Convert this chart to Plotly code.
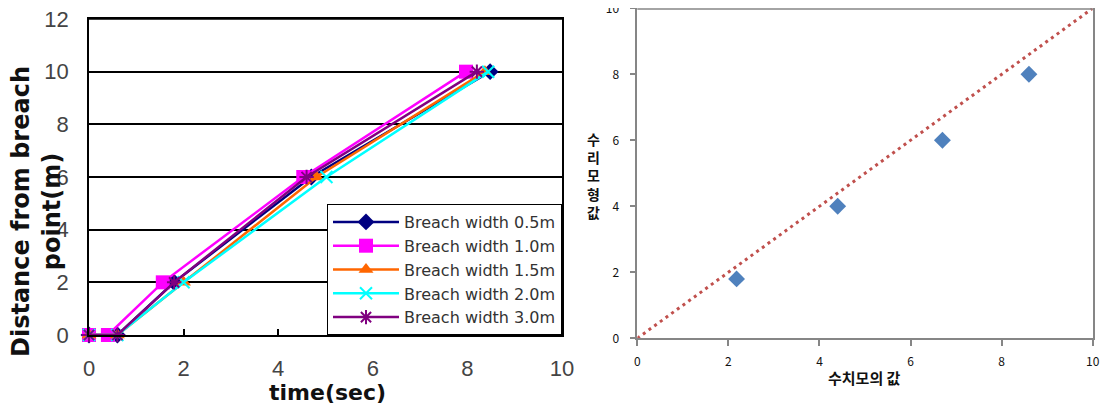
import plotly.graph_objects as go

W, H = 1109, 403
OFF = 8  # page body margin offsets the figure by 8 px

# ---- Left chart data: time (sec) at which each distance is reached ----
distance_m = [0, 0, 2, 6, 10]
series_names = ["Breach width 0.5m", "Breach width 1.0m", "Breach width 1.5m",
                "Breach width 2.0m", "Breach width 3.0m"]
time_05 = [0, 0.6, 1.8, 4.7, 8.48]
time_10 = [0, 0.4, 1.56, 4.53, 7.97]
time_15 = [0, 0.6, 2.0, 4.81, 8.37]
time_20 = [0, 0.6, 2.0, 5.02, 8.44]
time_30 = [0, 0.6, 1.8, 4.6, 8.2]

# ---- Right chart data ----
numerical_vals = [2.18, 4.4, 6.7, 8.6]     # 수치모의 값
hydraulic_vals = [1.8, 4.0, 6.0, 8.0]      # 수리모형값
diag_x = [0, 10]
diag_y = [0, 10]

left_times = [time_05, time_10, time_15, time_20, time_30]
colors = ["#000080", "#ff00ff", "#ff6600", "#00ffff", "#800080"]
symbols = ["diamond", "square", "triangle-up", "x-thin-open", "asterisk-open"]
msizes = [13, 14, 13, 12, 12]


def px_x(p):
    return (p - OFF) / W


def px_y(p):
    return 1 - (p - OFF) / H


L_X0, L_X1, L_Y0, L_Y1 = 89, 562, 335, 19
R_X0, R_X1, R_Y0, R_Y1 = 637.3, 1092.7, 338.3, 8.3

fig = go.Figure()

for name, t, c, s, ms in zip(series_names, left_times, colors, symbols, msizes):
    open_sym = s.endswith("open")
    fig.add_trace(go.Scatter(
        x=t, y=distance_m, name=name, mode="lines+markers",
        line=dict(color=c, width=2.5),
        marker=dict(symbol=s, size=ms, color=c,
                    line=dict(color=c, width=2 if open_sym else 0)),
        cliponaxis=False, xaxis="x", yaxis="y",
    ))

fig.add_trace(go.Scatter(
    x=diag_x, y=diag_y, mode="lines", showlegend=False,
    line=dict(color="#c0504d", width=3, dash="3px,4px"),
    cliponaxis=False, xaxis="x2", yaxis="y2",
))
fig.add_trace(go.Scatter(
    x=numerical_vals, y=hydraulic_vals, mode="markers", showlegend=False,
    marker=dict(symbol="diamond", size=13, color="#4f81bd"),
    cliponaxis=False, xaxis="x2", yaxis="y2",
))

tick_font_left = dict(family="Liberation Sans, Arial", size=22, color="#444444")
tick_font_right = dict(family="Noto Sans CJK KR", size=12, color="#111111")

# top edges of the two plot frames (paper-referenced so they are not clipped)
frames = [
    dict(type="line", xref="paper", yref="paper",
         x0=px_x(L_X0), x1=px_x(L_X1), y0=px_y(L_Y1), y1=px_y(L_Y1),
         line=dict(color="black", width=1.5), layer="above"),
    dict(type="line", xref="paper", yref="paper",
         x0=px_x(R_X0), x1=px_x(R_X1), y0=px_y(R_Y1 + 0.7), y1=px_y(R_Y1 + 0.7),
         line=dict(color="#868686", width=1.5), layer="above"),
]

fig.update_layout(
    width=W, height=H,
    margin=dict(l=0, r=0, t=0, b=0, autoexpand=False),
    paper_bgcolor="white", plot_bgcolor="white",
    showlegend=True,
    shapes=frames,
    legend=dict(
        x=px_x(L_X1), y=px_y(L_Y0), xanchor="right", yanchor="bottom",
        bgcolor="white", bordercolor="black", borderwidth=1,
        font=dict(family="DejaVu Sans", size=16, color="#333333"),
        itemwidth=66, tracegroupgap=0,
    ),
    xaxis=dict(
        domain=[px_x(L_X0), px_x(L_X1)], range=[0, 10], dtick=2,
        showline=True, linecolor="black", linewidth=1.5, mirror=True,
        ticks="inside", ticklen=6, tickcolor="black", tickwidth=1.5,
        showgrid=False, zeroline=False, tickfont=tick_font_left,
        ticklabelstandoff=13, anchor="y", automargin=False,
        ticklabeloverflow="allow",
    ),
    yaxis=dict(
        domain=[px_y(L_Y0), px_y(L_Y1)], range=[0, 12], dtick=2,
        showline=True, linecolor="black", linewidth=1.5, mirror=True,
        ticks="", showgrid=True, gridcolor="black", gridwidth=1.5,
        zeroline=False, tickfont=tick_font_left,
        ticklabelstandoff=14, anchor="x", automargin=False,
        ticklabeloverflow="allow",
    ),
    xaxis2=dict(
        domain=[px_x(R_X0), px_x(R_X1)], range=[0, 10], dtick=2,
        showline=True, linecolor="#868686", linewidth=1.5, mirror=True,
        ticks="outside", ticklen=6, tickcolor="#868686", tickwidth=1.5,
        showgrid=False, zeroline=False, tickfont=tick_font_right,
        ticklabelstandoff=6, anchor="y2", automargin=False,
        ticklabeloverflow="allow",
    ),
    yaxis2=dict(
        domain=[px_y(R_Y0), px_y(R_Y1)], range=[0, 10], dtick=2,
        showline=True, linecolor="#868686", linewidth=1.5, mirror=True,
        ticks="outside", ticklen=6, tickcolor="#868686", tickwidth=1.5,
        showgrid=False, zeroline=False, tickfont=tick_font_right,
        ticklabelstandoff=8, anchor="x2", automargin=False,
        ticklabeloverflow="allow",
    ),
    annotations=[
        dict(text="Distance from breach<br>point(m)", textangle=-90,
             x=px_x(36), y=px_y(212), xref="paper", yref="paper",
             showarrow=False, xanchor="center", yanchor="middle",
             font=dict(family="DejaVu Sans", size=24, color="#111111",
                       weight="bold")),
        dict(text="time(sec)", x=px_x(327), y=px_y(392),
             xref="paper", yref="paper", showarrow=False,
             xanchor="center", yanchor="middle",
             font=dict(family="DejaVu Sans", size=22, color="#111111",
                       weight="bold")),
        dict(text="수<br>리<br>모<br>형<br>값", x=px_x(593), y=px_y(176),
             xref="paper", yref="paper", showarrow=False,
             xanchor="center", yanchor="middle",
             font=dict(family="Noto Sans CJK KR", size=14, color="#111111",
                       weight="bold")),
        dict(text="수치모의 값", x=px_x(864), y=px_y(377),
             xref="paper", yref="paper", showarrow=False,
             xanchor="center", yanchor="middle",
             font=dict(family="Noto Sans CJK KR", size=15, color="#111111",
                       weight="bold")),
    ],
)

fig.write_html("out.html")
